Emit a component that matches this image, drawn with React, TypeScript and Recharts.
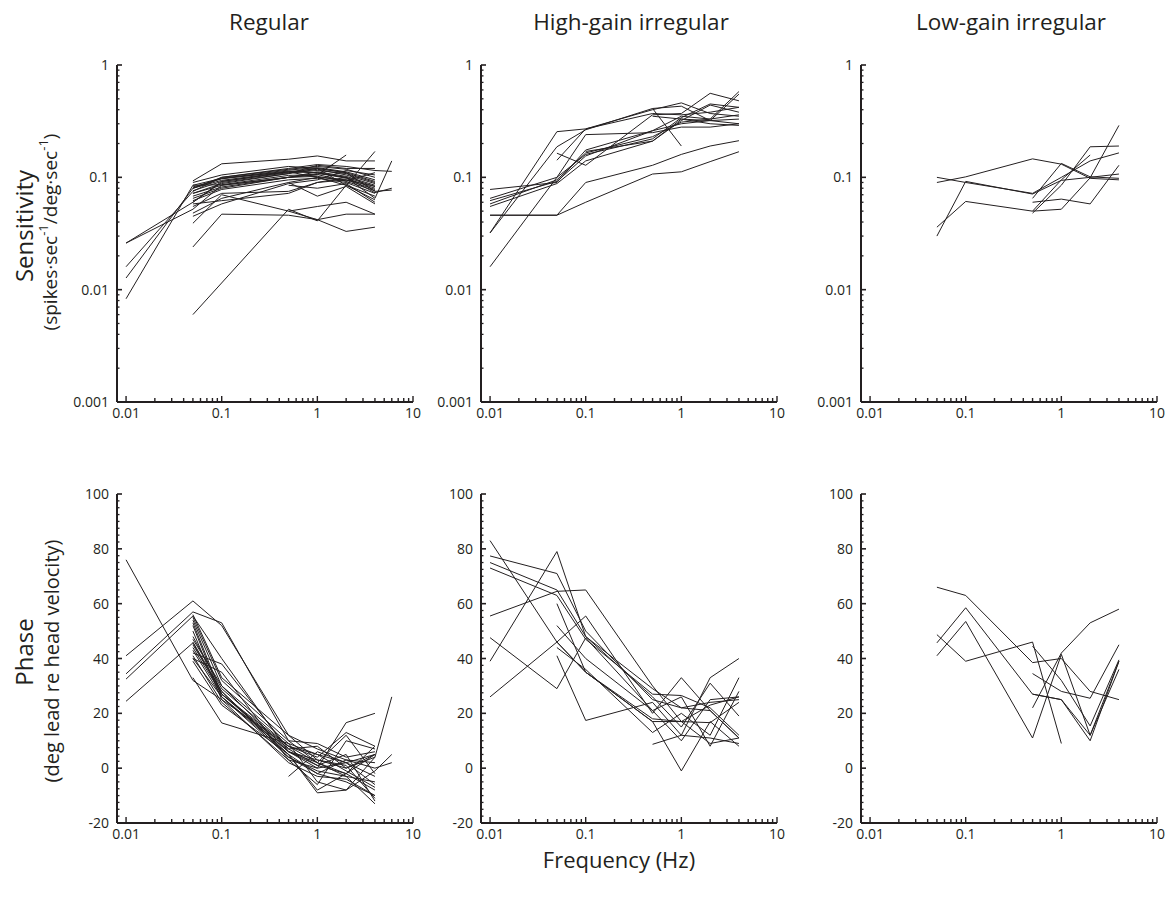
import { LineChart, Line, XAxis, YAxis } from "recharts"

const INK = "#231f20"
const FONT = "'Open Sans', 'Noto Sans', sans-serif"

// test frequencies (Hz)
const FREQS = [0.01, 0.05, 0.1, 0.5, 1, 2, 4, 6]
const FREQS_LG = [0.05, 0.1, 0.5, 1, 2, 4]

// sensitivity, spikes/s per deg/s — one row per afferent
const REG_SENS = [
  [null, 0.093, 0.132, 0.145, 0.155, 0.14, 0.14, null],
  [0.026, 0.06, 0.092, 0.112, 0.12, 0.11, 0.092, null],
  [0.026, 0.052, 0.085, 0.1, 0.108, 0.1, 0.083, null],
  [0.016, 0.075, 0.1, 0.118, 0.125, 0.118, 0.1, null],
  [0.0127, 0.08, 0.094, 0.112, 0.11, 0.098, 0.08, null],
  [0.0083, 0.085, 0.086, 0.104, 0.106, 0.092, 0.076, null],
  [null, 0.006, null, 0.052, 0.041, 0.085, 0.17, null],
  [null, 0.024, 0.047, 0.046, 0.042, 0.033, 0.036, null],
  [null, 0.039, 0.07, 0.05, 0.042, 0.047, 0.047, null],
  [null, 0.055, 0.072, 0.075, 0.09, 0.1, 0.065, 0.14],
  [null, 0.08, 0.1, 0.12, 0.13, 0.125, 0.115, 0.113],
  [null, 0.09, 0.105, 0.125, 0.12, 0.11, 0.075, 0.077],
  [null, 0.072, 0.088, 0.108, 0.118, 0.105, 0.088, null],
  [null, 0.068, 0.082, 0.1, 0.112, 0.102, 0.085, null],
  [null, 0.062, 0.078, 0.095, 0.098, 0.09, 0.072, null],
  [null, 0.085, 0.098, 0.116, 0.122, 0.112, 0.095, null],
  [null, 0.076, 0.092, 0.11, 0.115, 0.108, 0.09, null],
  [null, 0.058, 0.062, 0.072, 0.09, 0.095, 0.083, null],
  [null, 0.048, 0.065, 0.09, 0.1, 0.095, 0.078, null],
  [null, 0.045, 0.058, 0.088, 0.095, 0.115, 0.105, null],
  [null, null, null, 0.085, 0.08, 0.088, 0.06, null],
  [null, null, null, 0.09, 0.068, 0.083, 0.058, null],
  [null, null, null, 0.05, 0.055, 0.06, 0.047, null],
  [null, 0.065, 0.08, 0.1, 0.105, 0.158, null, null],
  [null, 0.08, 0.098, 0.112, 0.1, 0.085, 0.068, null],
  [null, 0.072, 0.085, 0.1, 0.102, 0.093, 0.11, null],
  [null, 0.06, 0.09, 0.108, 0.128, 0.12, 0.12, null],
  [null, null, null, 0.11, 0.12, 0.085, 0.063, null],
  [null, 0.082, 0.097, 0.114, 0.11, 0.1, 0.073, 0.08],
]

const HG_SENS = [
  [0.032, 0.255, 0.27, 0.4, 0.46, 0.37, 0.35],
  [0.078, 0.09, 0.175, 0.26, 0.35, 0.33, 0.58],
  [0.065, 0.1, 0.16, 0.22, 0.34, 0.45, 0.42],
  [0.058, 0.095, 0.165, 0.23, 0.31, 0.33, 0.36],
  [0.055, 0.088, 0.14, 0.21, 0.32, 0.44, 0.38],
  [0.046, 0.046, 0.06, 0.107, 0.112, 0.138, 0.169],
  [0.046, 0.046, 0.09, 0.128, 0.16, 0.19, 0.212],
  [0.032, 0.187, 0.265, 0.41, 0.43, 0.32, 0.3],
  [0.016, 0.1, 0.24, 0.25, 0.28, 0.28, 0.3],
  [null, 0.164, 0.128, 0.36, 0.37, 0.56, 0.48],
  [null, 0.142, 0.27, 0.37, 0.36, 0.38, 0.42],
  [null, null, null, 0.35, 0.33, 0.32, 0.55],
  [null, null, null, 0.41, 0.19, null, null],
  [null, null, 0.17, 0.21, 0.33, 0.3, 0.29],
  [0.062, 0.092, 0.155, 0.26, 0.3, 0.32, 0.33],
]

const LG_SENS = [
  [0.09, 0.101, 0.146, 0.131, 0.098, 0.095],
  [0.1, 0.09, 0.072, 0.1, 0.14, 0.165],
  [0.03, 0.092, 0.071, 0.094, 0.1, 0.107],
  [0.036, 0.061, 0.05, 0.052, 0.099, 0.29],
  [null, null, 0.065, 0.133, 0.101, 0.098],
  [null, null, 0.048, 0.085, 0.187, 0.19],
  [null, null, 0.06, 0.064, 0.058, 0.128],
  [null, null, 0.05, 0.095, 0.158, null],
]

// phase, deg lead re head velocity
const REG_PHASE = [
  [76, 32, 25, 8, 2, -3, -5, null],
  [41, 61, 52, 12, 3, 0, 5, null],
  [34.4, 57, 53, 10, 2, -2, 8, null],
  [32.5, 55.5, 40, 6, 0, 2, -3, null],
  [24.4, 45.7, 27, 7, 1, -2, -8, null],
  [null, 45, 28, 5, -2, -5, -10, null],
  [null, 54, 30, 6, 3, 1, -11, null],
  [null, 53, 27, 8, 5, 2, 5, null],
  [null, 52, 26, 4, -1, -3, -13, null],
  [null, 42, 38, 7, 8, 0, 4, null],
  [null, 40, 35, 3, 0, 16.6, 20, null],
  [null, 33, 16.5, 9, -5, -8, 4, 26],
  [null, 40, 26, 5, -9, -8, -1, 5],
  [null, 44, 27, 6, 2, 12, -2, null],
  [null, 48, 29, 8, 4, 13, 8, null],
  [null, 46, 28, 4, -2, 3, 0, 2],
  [null, null, null, -3, 6, 2, -6, null],
  [null, 55, 32, 10, 9, 4, 6, null],
  [null, 50, 25, 2, -3, -4, -10, null],
  [null, 43, 26, 6, 1, 5, -12, null],
  [null, 41, 24, 3, -6, 10, 7, null],
  [null, 47, 30, 9, 5, -1, -7, null],
  [null, 56, 33, 12, 7, 3, 2, null],
  [null, 39, 23, 5, -8, -2, 5, null],
]

const HG_PHASE = [
  [83, 46, 35, 17, 17, 23, 26],
  [77.4, 71, 50, 25, 22, 24, 25],
  [75, 65, 48, 29, 22, 21, 11],
  [73, 63, 47, 27, 26.5, 22, 12],
  [55.5, 64.5, 65, 30, 17, 9, 11],
  [39, 79, 48, 26, 15, 31, 19],
  [47.6, 29, 47.5, 21, 10, 25, 26],
  [26, 46, 55.5, 20, 33, 21, 11],
  [null, 60, 35, 17, -1, 17, 8],
  [null, 52, 40, 21, 26, 8, 28],
  [null, 46, 35, 18, 17, 16.6, 24],
  [null, 41, 17.4, 24, 12, 33, 40],
  [null, 44, 36, 13, 20, 12, 33],
  [null, null, null, 8.7, 12, 11, 9],
]

const LG_PHASE = [
  [66, 63, 38.5, 40, 28, 25],
  [45.7, 58.5, 27, 25, 10, 39],
  [41, 53.5, 11, 41.5, 12, 36],
  [48.7, 39, 46, 9, null, null],
  [null, null, 22, 42, 53, 58],
  [null, null, 44.5, 32, 15.4, 39.5],
  [null, null, 34.5, 28, 25.5, 45],
  [null, null, 27, 25, 12, 39],
]

const X_MAJOR = [0.01, 0.1, 1, 10]
const SENS_MAJOR = [0.001, 0.01, 0.1, 1]
const PHASE_MAJOR = [-20, 0, 20, 40, 60, 80, 100]

// log minor ticks 2..9 in each decade
const logTicks = (majors: number[]) => {
  const out: number[] = [...majors]
  for (let i = 0; i < majors.length - 1; i++)
    for (let m = 2; m <= 9; m++) out.push(+(majors[i] * m).toPrecision(3))
  return out.sort((a, b) => a - b)
}
const X_TICKS = logTicks(X_MAJOR)
const SENS_TICKS = logTicks(SENS_MAJOR)
const PHASE_TICKS: number[] = []
for (let v = -20; v <= 100; v += 2.5) PHASE_TICKS.push(v)

const X_DOMAIN = [0.00804, 10]
const PLOT_W = 296
const YW = 50
const XH = 30
const MT = 10
const MR = 10
const MB = 5

const toPoints = (freqs: number[], vals: (number | null)[]) =>
  vals.map((v, i) => ({ f: freqs[i], v })).filter((p) => p.v != null)

function XTick(props: any) {
  const { x, y, payload } = props
  const major = X_MAJOR.includes(payload.value)
  return (
    <g>
      <line x1={x} x2={x} y1={y} y2={y - (major ? 6 : 4)} stroke={INK} strokeWidth={1.4} />
      {major && (
        <text x={x} y={y + 16} textAnchor="middle" fontSize={14} fill={INK} fontFamily={FONT}>
          {String(payload.value)}
        </text>
      )}
    </g>
  )
}

function makeYTick(majors: number[]) {
  return (props: any) => {
    const { x, y, payload } = props
    const major = majors.includes(payload.value)
    return (
      <g>
        <line x1={x} x2={x + (major ? 5 : 2.5)} y1={y} y2={y} stroke={INK} strokeWidth={major ? 1.6 : 1.3} />
        {major && (
          <text x={x - 8} y={y + 5} textAnchor="end" fontSize={14} fill={INK} fontFamily={FONT}>
            {String(payload.value)}
          </text>
        )}
      </g>
    )
  }
}

function Panel({ rows, freqs, left, top, plotH, log }: any) {
  const yTicks = log ? SENS_TICKS : PHASE_TICKS
  const yMajor = log ? SENS_MAJOR : PHASE_MAJOR
  return (
    <div style={{ position: "absolute", left: left - YW, top: top - MT }}>
      <LineChart width={YW + PLOT_W + MR} height={MT + plotH + XH + MB} margin={{ top: MT, right: MR, bottom: MB, left: 0 }}>
        <XAxis
          type="number"
          dataKey="f"
          scale="log"
          domain={X_DOMAIN}
          allowDataOverflow
          ticks={X_TICKS}
          interval={0}
          tick={XTick}
          tickLine={false}
          tickSize={0}
          tickMargin={0}
          height={XH}
          axisLine={{ stroke: INK, strokeWidth: 2 }}
        />
        <YAxis
          type="number"
          dataKey="v"
          scale={log ? "log" : "linear"}
          domain={log ? [0.001, 1] : [-20, 100]}
          allowDataOverflow
          ticks={yTicks}
          interval={0}
          tick={makeYTick(yMajor)}
          tickLine={false}
          tickSize={0}
          tickMargin={0}
          width={YW}
          axisLine={{ stroke: INK, strokeWidth: 2 }}
        />
        {rows.map((r: (number | null)[], i: number) => (
          <Line
            key={i}
            data={toPoints(freqs, r)}
            dataKey="v"
            stroke={INK}
            strokeWidth={1}
            dot={false}
            isAnimationActive={false}
          />
        ))}
      </LineChart>
    </div>
  )
}

const LEFTS = [117, 481, 861]
const TOP_ROW = 65
const TOP_H = 337
const BOT_ROW = 494
const BOT_H = 329

export default function App() {
  const txt = { fill: INK, fontFamily: FONT }
  return (
    <div style={{ position: "absolute", left: 0, top: 0, width: 1165, height: 899, background: "#fff" }}>
      <Panel rows={REG_SENS} freqs={FREQS} left={LEFTS[0]} top={TOP_ROW} plotH={TOP_H} log />
      <Panel rows={HG_SENS} freqs={FREQS} left={LEFTS[1]} top={TOP_ROW} plotH={TOP_H} log />
      <Panel rows={LG_SENS} freqs={FREQS_LG} left={LEFTS[2]} top={TOP_ROW} plotH={TOP_H} log />
      <Panel rows={REG_PHASE} freqs={FREQS} left={LEFTS[0]} top={BOT_ROW} plotH={BOT_H} />
      <Panel rows={HG_PHASE} freqs={FREQS} left={LEFTS[1]} top={BOT_ROW} plotH={BOT_H} />
      <Panel rows={LG_PHASE} freqs={FREQS_LG} left={LEFTS[2]} top={BOT_ROW} plotH={BOT_H} />
      <svg width={1165} height={899} style={{ position: "absolute", left: 0, top: 0, pointerEvents: "none" }}>
        <text x={269} y={30} textAnchor="middle" fontSize={22.5} {...txt}>Regular</text>
        <text x={631} y={30} textAnchor="middle" fontSize={22.5} {...txt}>High-gain irregular</text>
        <text x={1011} y={30} textAnchor="middle" fontSize={22.5} {...txt}>Low-gain irregular</text>
        <text x={23} y={226} transform="rotate(-90 23 226)" textAnchor="middle" dominantBaseline="central" fontSize={24} {...txt}>
          Sensitivity
        </text>
        <text x={50} y={232} transform="rotate(-90 50 232)" textAnchor="middle" dominantBaseline="central" fontSize={19} {...txt}>
          (spikes·sec<tspan dy={-7} fontSize={13}>-1</tspan>
          <tspan dy={7}>/deg·sec</tspan>
          <tspan dy={-7} fontSize={13}>-1</tspan>
          <tspan dy={7}>)</tspan>
        </text>
        <text x={23} y={652} transform="rotate(-90 23 652)" textAnchor="middle" dominantBaseline="central" fontSize={24} {...txt}>
          Phase
        </text>
        <text x={51} y={661} transform="rotate(-90 51 661)" textAnchor="middle" dominantBaseline="central" fontSize={20} {...txt}>
          (deg lead re head velocity)
        </text>
        <text x={619} y={868} textAnchor="middle" fontSize={22} {...txt}>Frequency (Hz)</text>
      </svg>
    </div>
  )
}
